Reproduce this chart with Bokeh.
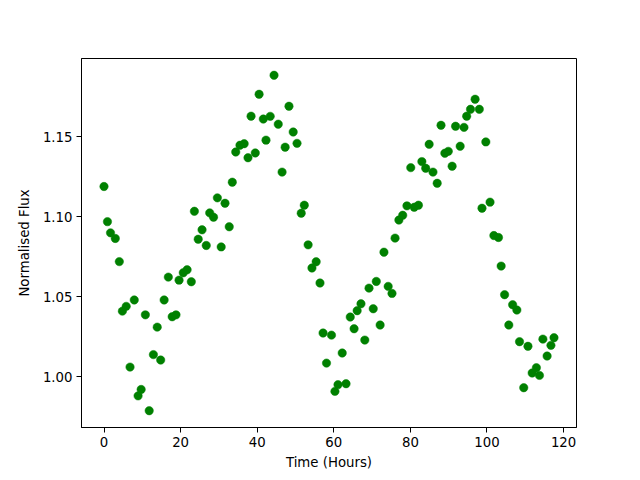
from bokeh.plotting import figure
from bokeh.models import Range1d, FixedTicker, PrintfTickFormatter, ColumnDataSource
from bokeh.embed import file_html
from bokeh.resources import INLINE

# Time in hours and normalised flux
time_hours = [
    0.0, 0.9, 1.7, 2.95, 4.0, 4.8, 5.8, 6.8, 7.9, 8.9,
    9.7, 10.8, 11.8, 12.9, 13.9, 14.8, 15.7, 16.8, 17.8, 18.8,
    19.6, 20.7, 21.7, 22.8, 23.6, 24.6, 25.6, 26.7, 27.6, 28.6,
    29.6, 30.6, 31.6, 32.7, 33.5, 34.4, 35.5, 36.6, 37.6, 38.4,
    39.5, 40.5, 41.6, 42.3, 43.4, 44.4, 45.5, 46.5, 47.3, 48.3,
    49.4, 50.4, 51.5, 52.3, 53.3, 54.3, 55.4, 56.4, 57.2, 58.1,
    59.4, 60.3, 61.1, 62.2, 63.2, 64.3, 65.3, 66.1, 67.1, 68.1,
    69.2, 70.3, 71.1, 72.1, 73.1, 74.2, 75.2, 76.0, 77.0, 78.0,
    79.1, 80.1, 81.0, 82.1, 83.0, 84.0, 84.9, 85.9, 87.0, 88.0,
    89.0, 89.9, 90.9, 91.8, 93.0, 94.0, 94.7, 95.7, 96.9, 98.0,
    98.7, 99.7, 100.8, 101.8, 103.0, 103.7, 104.6, 105.7, 106.7, 107.8,
    108.5, 109.6, 110.7, 111.8, 112.9, 113.7, 114.6, 115.7, 116.7, 117.5,
]
norm_flux = [
    1.119, 1.097, 1.090, 1.0865, 1.072, 1.041, 1.044, 1.006, 1.048, 0.988,
    0.992, 1.0387, 0.9787, 1.0138, 1.031, 1.0104, 1.048, 1.0623, 1.0375, 1.0387,
    1.0604, 1.065, 1.0669, 1.0594, 1.1035, 1.086, 1.0919, 1.0821, 1.1025, 1.0998,
    1.1119, 1.0812, 1.1085, 1.0938, 1.1217, 1.1406, 1.1448, 1.1458, 1.137, 1.163,
    1.140, 1.1767, 1.1612, 1.148, 1.1629, 1.1886, 1.158, 1.128, 1.1436, 1.1692,
    1.1531, 1.146, 1.1023, 1.1073, 1.0825, 1.068, 1.0719, 1.0586, 1.0273, 1.0085,
    1.026, 0.9908, 0.995, 1.0148, 0.9956, 1.0373, 1.030, 1.0413, 1.0456, 1.0229,
    1.0554, 1.0425, 1.0596, 1.0323, 1.0779, 1.0565, 1.0521, 1.0867, 1.098, 1.101,
    1.1069, 1.1308, 1.106, 1.1073, 1.1346, 1.1304, 1.1454, 1.128, 1.121, 1.1573,
    1.1398, 1.141, 1.1317, 1.1567, 1.1442, 1.156, 1.163, 1.1673, 1.1736, 1.1673,
    1.1054, 1.1469, 1.1092, 1.0883, 1.0871, 1.0692, 1.0513, 1.0323, 1.045, 1.0417,
    1.0219, 0.9931, 1.019, 1.0023, 1.0056, 1.0008, 1.0235, 1.0129, 1.0196, 1.0244,
]

x_ticks = [0, 20, 40, 60, 80, 100, 120]
y_ticks = [1.00, 1.05, 1.10, 1.15]

FONT = "DejaVu Sans"
FS = "13.3px"

p = figure(
    output_backend="svg", toolbar_location=None,
    frame_width=495, frame_height=369,
    min_border_left=81, min_border_top=58, min_border_right=40, min_border_bottom=40,
    x_range=Range1d(-5.875, 123.375), y_range=Range1d(0.9682, 1.1991),
    background_fill_color="white", border_fill_color="white",
)
p.grid.visible = False
p.outline_line_color = "black"
p.outline_line_width = 1

src = ColumnDataSource(dict(x=time_hours, y=norm_flux))
p.scatter("x", "y", source=src, size=8.4, fill_color="green", line_color="green", line_width=0.5)

for ax in (p.xaxis[0], p.yaxis[0]):
    ax.axis_line_color = "black"
    ax.major_tick_line_color = "black"
    ax.major_tick_out = 5
    ax.major_tick_in = 0
    ax.minor_tick_line_color = None
    ax.major_label_text_font = FONT
    ax.major_label_text_font_size = FS
    ax.major_label_text_color = "black"
    ax.axis_label_text_font = FONT
    ax.axis_label_text_font_size = FS
    ax.axis_label_text_font_style = "normal"
    ax.axis_label_text_color = "black"
    ax.major_label_standoff = 4

p.xaxis[0].ticker = FixedTicker(ticks=x_ticks)
p.yaxis[0].ticker = FixedTicker(ticks=y_ticks)
p.yaxis[0].formatter = PrintfTickFormatter(format="%.2f")
p.xaxis[0].axis_label = "Time (Hours)"
p.yaxis[0].axis_label = "Normalised Flux"
p.xaxis[0].axis_label_standoff = 5
p.yaxis[0].axis_label_standoff = 8

open("out.html", "w").write(file_html(p, INLINE))
